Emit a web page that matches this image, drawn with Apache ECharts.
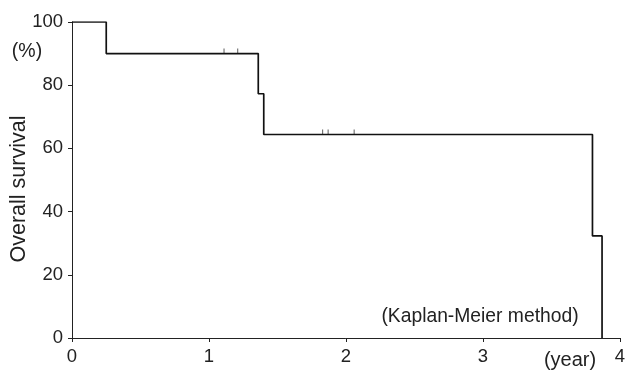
<!DOCTYPE html>
<html>
<head>
<meta charset="utf-8">
<script src="https://cdn.jsdelivr.net/npm/echarts@6/dist/echarts.min.js"></script>
<style>
  html, body { margin: 0; padding: 0; background: #fff; }
  #chart { width: 628px; height: 373px; }
</style>
</head>
<body>
<div id="chart"></div>
<script>
// survival curve (year, %)
const survivalYears = [0, 0.25, 1.36, 1.40, 3.80, 3.87];
const survivalPct = [100, 90, 77.3, 64.4, 32.3, 0];
// censored cases
const censorYears = [1.11, 1.21, 1.83, 1.87, 2.06];
const censorPct = [90, 90, 64.4, 64.4, 64.4];
const xTicks = [0, 1, 2, 3, 4];
const yTicks = [0, 20, 40, 60, 80, 100];

const font = 'Liberation Sans, Arial, sans-serif';
const chart = echarts.init(document.getElementById('chart'));

chart.setOption({
  animation: false,
  grid: { left: 72, right: 6, top: 22, bottom: 35 },
  xAxis: {
    type: 'value',
    min: xTicks[0],
    max: xTicks[xTicks.length - 1],
    interval: 1,
    splitLine: { show: false },
    axisLine: { lineStyle: { color: '#222', width: 1 } },
    axisTick: { length: 4, lineStyle: { color: '#222' } },
    axisLabel: { color: '#222', fontSize: 18.5, fontFamily: font, margin: 9 }
  },
  yAxis: {
    type: 'value',
    min: yTicks[0],
    max: yTicks[yTicks.length - 1],
    interval: 20,
    splitLine: { show: false },
    axisLine: { show: true, lineStyle: { color: '#222', width: 1 } },
    axisTick: { show: true, length: 4, lineStyle: { color: '#222' } },
    axisLabel: { color: '#222', fontSize: 18.5, fontFamily: font, margin: 9 }
  },
  graphic: [
    {
      type: 'text', x: 27, y: 52,
      style: { text: '(%)', fontSize: 19.5, fontFamily: font, fill: '#222',
               align: 'center', verticalAlign: 'middle' }
    },
    {
      type: 'text', x: 19, y: 189, rotation: Math.PI / 2,
      style: { text: 'Overall survival', fontSize: 21.5, fontFamily: font, fill: '#222',
               align: 'center', verticalAlign: 'middle' }
    },
    {
      type: 'text', x: 570, y: 360,
      style: { text: '(year)', fontSize: 20, fontFamily: font, fill: '#222',
               align: 'center', verticalAlign: 'middle' }
    },
    {
      type: 'text', x: 480, y: 317,
      style: { text: '(Kaplan-Meier method)', fontSize: 19.3, fontFamily: font, fill: '#222',
               align: 'center', verticalAlign: 'middle' }
    }
  ],
  series: [
    {
      type: 'line',
      step: 'end',
      symbol: 'none',
      lineStyle: { color: '#111', width: 1.7 },
      data: survivalYears.map((x, i) => [x, survivalPct[i]])
    },
    {
      type: 'scatter',
      symbol: 'rect',
      symbolSize: [1, 5],
      symbolOffset: [0, -2.5],
      itemStyle: { color: '#333' },
      data: censorYears.map((x, i) => [x, censorPct[i]])
    }
  ]
});
</script>
</body>
</html>
